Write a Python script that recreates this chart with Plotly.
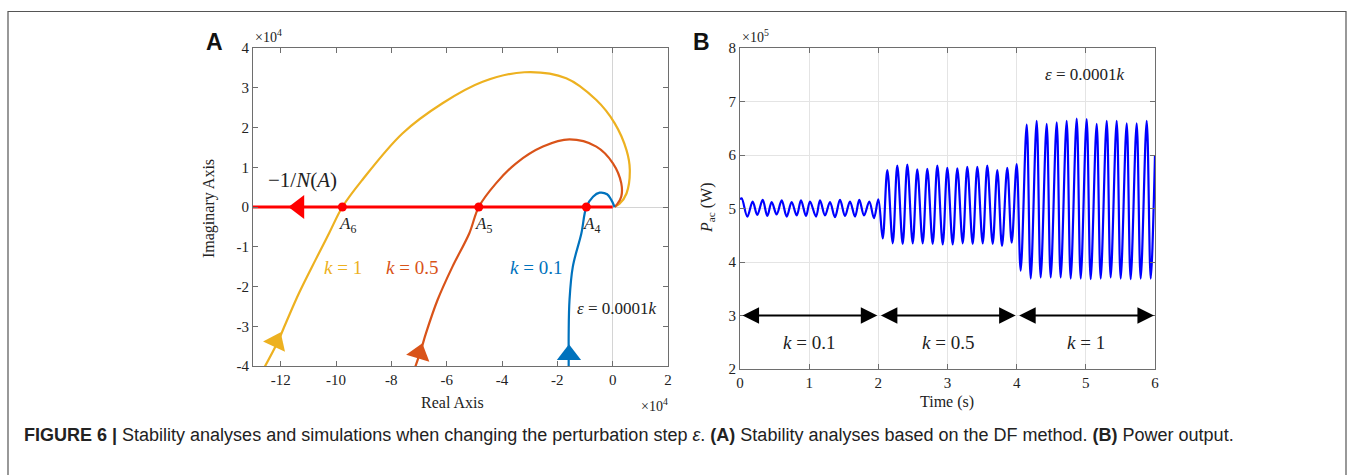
import plotly.graph_objects as go

# ---------------- Panel A data (units of 1e4) ----------------
k1_re = [-12.6, -12.13, -11.82, -11.34, -10.74, -10.25, -9.77, -9.05, -7.6, -6.15, -4.7, -3.19, -1.68, -0.59, 0.07, 0.5, 0.62, 0.5, 0.25, 0.08]
k1_im = [-4.05, -3.43, -2.93, -2.17, -1.33, -0.66, 0.0, 0.68, 1.85, 2.61, 3.15, 3.39, 3.24, 2.69, 2.11, 1.43, 0.93, 0.34, 0.08, 0.01]

k05_re = [-7.15, -6.93, -6.75, -6.33, -5.79, -5.18, -4.84, -4.21, -3.49, -2.52, -1.56, -0.59, 0.01, 0.31, 0.31, 0.15, 0.07]
k05_im = [-4.05, -3.6, -3.18, -2.34, -1.5, -0.66, 0.0, 0.6, 1.1, 1.52, 1.70, 1.52, 1.1, 0.6, 0.26, 0.06, 0.0]

k01_re = [-1.59, -1.59, -1.59, -1.56, -1.44, -1.13, -0.95, -0.71, -0.47, -0.2, -0.05, 0.07]
k01_im = [-4.05, -3.75, -3.18, -2.34, -1.5, -0.66, 0.0, 0.26, 0.36, 0.32, 0.18, 0.0]

nyq_arrow_re = [-12.16, -6.99, -1.58]
nyq_arrow_im = [-3.39, -3.68, -3.72]
nyq_arrow_ang = [25, 17, 0]

dfline_re = [-13.0, 0.0]
dfline_im = [0.0, 0.0]
df_arrow_re = [-11.34]
cross_re = [-9.77, -4.84, -0.95]
cross_names = ["6", "5", "4"]

a_xticks = [-12, -10, -8, -6, -4, -2, 0, 2]
a_xticktext = ["-12", "-10", "-8", "-6", "-4", "-2", "0", "2"]
a_yticks = [-4, -3, -2, -1, 0, 1, 2, 3, 4]
a_yticktext = ["-4", "-3", "-2", "-1", "0", "1", "2", "3", "4"]

# ---------------- Panel B data (P_ac in units of 1e5 W) ----------------
seg1_t = [0.0, 0.024, 0.106, 0.183, 0.25, 0.328, 0.395, 0.458, 0.53, 0.603, 0.675, 0.747, 0.82, 0.882, 0.954,
          1.012, 1.099, 1.157, 1.229, 1.301, 1.373, 1.446, 1.518, 1.59, 1.663, 1.725, 1.793, 1.87, 1.937, 2.0]
seg1_p = [5.17, 5.19, 4.85, 5.13, 4.88, 5.16, 4.86, 5.12, 4.89, 5.15, 4.85, 5.12, 4.87, 5.15, 4.86,
          5.13, 4.85, 5.15, 4.87, 5.12, 4.84, 5.16, 4.86, 5.13, 4.85, 5.16, 4.87, 5.13, 4.82, 5.17]

seg2_t = [2.063, 2.13, 2.208, 2.274, 2.352, 2.419, 2.497, 2.563, 2.641, 2.708, 2.786, 2.853, 2.931, 2.997,
          3.075, 3.142, 3.22, 3.286, 3.364, 3.431, 3.509, 3.575, 3.653, 3.72, 3.788, 3.864, 3.928, 4.0]
seg2_p = [4.44, 5.72, 4.35, 5.80, 4.34, 5.82, 4.35, 5.73, 4.35, 5.74, 4.34, 5.80, 4.33, 5.76,
          4.33, 5.75, 4.35, 5.78, 4.34, 5.78, 4.35, 5.80, 4.34, 5.72, 4.30, 5.76, 4.36, 5.83]

seg3_t = [4.058, 4.145, 4.203, 4.289, 4.347, 4.434, 4.492, 4.579, 4.636, 4.723, 4.781, 4.868, 4.926, 5.012,
          5.07, 5.157, 5.215, 5.302, 5.359, 5.446, 5.504, 5.591, 5.648, 5.735, 5.793, 5.88, 5.938, 6.0]
seg3_p = [3.84, 6.57, 3.69, 6.64, 3.71, 6.58, 3.71, 6.61, 3.71, 6.64, 3.69, 6.68, 3.69, 6.67,
          3.68, 6.58, 3.69, 6.64, 3.71, 6.64, 3.69, 6.59, 3.68, 6.59, 3.69, 6.64, 3.69, 6.0]

b_xticks = [0, 1, 2, 3, 4, 5, 6]
b_yticks = [2, 3, 4, 5, 6, 7, 8]
k_ranges = [(0.0, 2.0), (2.0, 4.0), (4.0, 6.0)]
k_labels = ["0.1", "0.5", "1"]
arrow_level = 3.0
k_label_level = 2.5

# ---------------- styles ----------------
W, H = 1356, 475
YEL, ORA, BLU, RED = "#EDB120", "#D95319", "#0072BD", "#FF0000"
SERIF = "Liberation Serif, Times New Roman, serif"
SANS = "Liberation Sans, Arial, sans-serif"
AXC = "#6e6e6e"

def px(x):
    return x / W

def py(y):
    return 1 - y / H

fig = go.Figure()

# Panel A
fig.add_trace(go.Scatter(x=dfline_re, y=dfline_im, mode="lines", line=dict(color=RED, width=3),
                         xaxis="x", yaxis="y", hoverinfo="skip"))
for re_, im_, c in [(k1_re, k1_im, YEL), (k05_re, k05_im, ORA), (k01_re, k01_im, BLU)]:
    fig.add_trace(go.Scatter(x=re_, y=im_, mode="lines", line=dict(color=c, width=2.2, shape="spline", smoothing=1.0),
                             xaxis="x", yaxis="y"))
for i, c in enumerate([YEL, ORA, BLU]):
    fig.add_trace(go.Scatter(x=[nyq_arrow_re[i]], y=[nyq_arrow_im[i]], mode="markers",
                             marker=dict(symbol="triangle-up", size=21, color=c, angle=nyq_arrow_ang[i],
                                         line=dict(width=0)),
                             xaxis="x", yaxis="y"))
fig.add_trace(go.Scatter(x=df_arrow_re, y=[0.0], mode="markers",
                         marker=dict(symbol="triangle-left", size=21, color=RED, line=dict(width=0)),
                         xaxis="x", yaxis="y"))
fig.add_trace(go.Scatter(x=cross_re, y=[0.0] * len(cross_re), mode="markers",
                         marker=dict(symbol="circle", size=9, color=RED), xaxis="x", yaxis="y"))

# Panel B
bt = seg1_t + seg2_t + seg3_t
bp = seg1_p + seg2_p + seg3_p
fig.add_trace(go.Scatter(x=bt, y=bp, mode="lines", line=dict(color="#0000FF", width=2.2, shape="spline", smoothing=1.0),
                         xaxis="x2", yaxis="y2"))

axis_common = dict(showline=True, linecolor=AXC, linewidth=1, mirror="ticks", ticks="inside", ticklen=5,
                   tickcolor=AXC, automargin=False, tickfont=dict(family=SERIF, size=15, color="#222"))

fig.update_layout(
    width=W, height=H, autosize=False, showlegend=False,
    margin=dict(l=0, r=0, t=0, b=0, pad=0, autoexpand=False),
    paper_bgcolor="white", plot_bgcolor="white",
    xaxis=dict(domain=[px(253), px(668)], anchor="y", range=[-13, 2], tickvals=a_xticks, ticktext=a_xticktext,
               showgrid=False, zeroline=True, zerolinecolor="#d4d4d4", zerolinewidth=1, **axis_common),
    yaxis=dict(domain=[py(366), py(48)], anchor="x", range=[-4, 4], tickvals=a_yticks, ticktext=a_yticktext,
               showgrid=False, zeroline=True, zerolinecolor="#d4d4d4", zerolinewidth=1, **axis_common),
    xaxis2=dict(domain=[px(740), px(1155)], anchor="y2", range=[0, 6], tickvals=b_xticks,
                showgrid=True, gridcolor="#e4e4e4", zeroline=False, **axis_common),
    yaxis2=dict(domain=[py(369), py(48)], anchor="x2", range=[2, 8], tickvals=b_yticks,
                showgrid=True, gridcolor="#e4e4e4", zeroline=False, **axis_common),
)

ann = []
def add_paper(text, x, y, size, family=SERIF, xanchor="center", yanchor="middle", color="#222", angle=0):
    ann.append(dict(text=text, x=x, y=y, xref="paper", yref="paper", showarrow=False, xanchor=xanchor,
                    yanchor=yanchor, textangle=angle, font=dict(family=family, size=size, color=color)))

def add_data(text, x, y, axis, size, color="#222", xanchor="center", yanchor="middle"):
    ann.append(dict(text=text, x=x, y=y, xref="x" + axis, yref="y" + axis, showarrow=False,
                    xanchor=xanchor, yanchor=yanchor, font=dict(family=SERIF, size=size, color=color)))

add_paper("<b>A</b>", px(214), py(42), 23, family=SANS, color="#111")
add_paper("<b>B</b>", px(701), py(42), 23, family=SANS, color="#111")
add_paper("×10<sup>4</sup>", px(253), py(36), 14, xanchor="left")
add_paper("×10<sup>4</sup>", px(639), py(405), 14, xanchor="left")
add_paper("×10<sup>5</sup>", px(740), py(36), 14, xanchor="left")
add_paper("Real Axis", px(452), py(402), 16)
add_paper("Imaginary Axis", px(209), py(209), 16, angle=-90)
add_paper("Time (s)", px(947), py(402), 16)
add_paper("<i>P</i><sub>ac</sub> (W)", px(707), py(208), 16, angle=-90)

add_data("−1/<i>N</i>(<i>A</i>)", -11.2, 0.68, "", 21)
for xr, nm in zip(cross_re, cross_names):
    add_data("<i>A</i><sub>%s</sub>" % nm, xr - 0.2, -0.12, "", 17, xanchor="left", yanchor="top")
add_data("<i>k</i> = 1", -9.75, -1.53, "", 19, color=YEL)
add_data("<i>k</i> = 0.5", -7.25, -1.53, "", 19, color=ORA)
add_data("<i>k</i> = 0.1", -2.77, -1.53, "", 19, color=BLU)
add_data("<i>ε</i> = 0.0001<i>k</i>", 0.17, -2.55, "", 17)

add_data("<i>ε</i> = 0.0001<i>k</i>", 4.99, 7.5, "2", 17)
for (a, b), lab in zip(k_ranges, k_labels):
    ann.append(dict(x=b - 0.015, y=arrow_level, ax=a + 0.015, ay=arrow_level, xref="x2", yref="y2",
                    axref="x2", ayref="y2", showarrow=True, arrowhead=2, arrowside="end+start",
                    arrowsize=1.5, arrowwidth=2.2, arrowcolor="black", text=""))
    add_data("<i>k</i> = %s" % lab, (a + b) / 2, k_label_level, "2", 19)

add_paper("<b>FIGURE 6 |</b> Stability analyses and simulations when changing the perturbation step <i>ε</i>. "
          "<b>(A)</b> Stability analyses based on the DF method. <b>(B)</b> Power output.",
          px(22), py(435), 18, family=SANS, xanchor="left", color="#222")

fig.update_layout(annotations=ann)
fig.add_shape(type="rect", xref="paper", yref="paper", x0=px(8), x1=px(1346), y0=-0.1, y1=py(11.5),
              line=dict(color="#555", width=1.2), layer="below")

post = (
    "document.documentElement.style.margin='0';document.body.style.margin='0';document.body.style.padding='0';"
    "document.documentElement.style.overflow='hidden';document.body.style.overflow='hidden';"
)
fig.write_html("out.html", config={"displayModeBar": False}, post_script=post)
